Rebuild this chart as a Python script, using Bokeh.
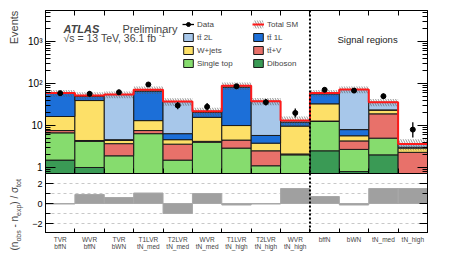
import numpy as np
from bokeh.plotting import figure
from bokeh.models import (Range1d, LinearAxis, LogAxis, FixedTicker, Span, Label, LabelSet,
                          ColumnDataSource, Legend, LegendItem)
from bokeh.core.properties import value
from bokeh.layouts import column, row
from bokeh.embed import file_html
from bokeh.resources import INLINE

# ---------------- data ----------------
label_line1 = ["TVR", "WVR", "TVR", "T1LVR", "T2LVR", "WVR", "T1LVR", "T2LVR", "WVR",
               "bffN", "bWN", "tN_med", "tN_high"]
label_line2 = ["bffN", "bffN", "bWN", "tN_med", "tN_med", "tN_med", "tN_high", "tN_high", "tN_high"]

diboson    = [1.5, 1.0, 0.3, 0.4, 0.3, 0.3, 0.3, 0.2, 0.3, 2.5, 0.8, 2.0, 0.1]
single_top = [5.2, 3.2, 1.6, 6.0, 1.2, 3.7, 2.6, 0.9, 1.7, 10.0, 1.9, 3.0, 0.3]
ttv        = [0.9, 0.2, 1.8, 1.2, 2.1, 0.2, 1.6, 1.4, 0.1, 0.3, 1.6, 14.0, 1.9]
wjets      = [8.8, 35.0, 0.7, 5.5, 1.0, 11.5, 5.5, 1.3, 7.6, 20.1, 1.4, 4.4, 0.6]
tt1l       = [42.0, 10.0, 0.2, 52.5, 1.8, 4.9, 71.6, 2.0, 2.3, 24.0, 2.3, 0.2, 0.13]
tt2l       = [1.0, 2.5, 50.0, 5.2, 30.8, 1.2, 6.7, 32.0, 1.1, 3.0, 64.0, 12.2, 0.6]
rel_unc    = [0.18, 0.2, 0.18, 0.2, 0.2, 0.22, 0.2, 0.2, 0.25, 0.18, 0.18, 0.2, 0.3]

data        = [59, 57, 62, 95, 30, 28, 86, 36, 20, 71, 68, 50, 8]
data_err_lo = [7.7, 7.5, 7.9, 9.7, 5.5, 5.3, 9.3, 6.0, 4.4, 8.4, 8.2, 7.1, 2.8]
data_err_hi = [8.7, 8.6, 8.9, 10.8, 6.5, 6.3, 10.3, 7.1, 5.5, 9.5, 9.3, 8.1, 4.0]

significance = [-0.05, 0.9, 0.6, 1.05, -1.0, 1.0, -0.15, -0.05, 1.5, 0.7, -0.15, 1.5, 1.5]

n_cr = 9  # number of control/validation regions before the divider

FONT = "Liberation Sans"
colors = {
    "Diboson": "#3a9a55",
    "Single top": "#86dc6e",
    "ttV": "#e8716a",
    "W+jets": "#fde068",
    "tt1L": "#1c6fd8",
    "tt2L": "#a7c7ea",
}

nb = len(data)
edges = np.arange(nb + 1, dtype=float)
left, right = edges[:-1], edges[1:]
centers = 0.5 * (left + right)

LB, RB, FW = 21, 23, 382          # left/right borders and frame width of the stacked panels
MAIN_H, RATIO_H, XLAB_H, TOP = 163, 60, 24, 10
TOTAL_H = TOP + MAIN_H + RATIO_H + XLAB_H + 2

# ---------------- main panel ----------------
p = figure(frame_width=FW, frame_height=MAIN_H, x_range=Range1d(0, nb),
           y_range=Range1d(0.72, 5500), y_axis_type="log",
           output_backend="svg", toolbar_location=None,
           min_border_left=LB, min_border_right=RB, min_border_top=TOP, min_border_bottom=0)
p.grid.visible = False
p.outline_line_color = "black"

stack = [(diboson, colors["Diboson"]), (single_top, colors["Single top"]), (ttv, colors["ttV"]),
         (wjets, colors["W+jets"]), (tt1l, colors["tt1L"]), (tt2l, colors["tt2L"])]
bottom = np.full(nb, 1e-3)
rend = []
for vals, col in stack:
    top = bottom + np.array(vals, dtype=float)
    r = p.quad(left=left, right=right, bottom=bottom, top=top, fill_color=col,
               line_color="#1a1a1a", line_width=1)
    rend.append(r)
    bottom = top
total = bottom
r_dib, r_st, r_ttv, r_wj, r_tt1, r_tt2 = rend

unc = np.array(rel_unc)
r_band = p.quad(left=left, right=right, bottom=total * (1 - unc), top=total * (1 + unc),
                fill_alpha=0, line_alpha=0, hatch_pattern="\\", hatch_color="#555555",
                hatch_scale=5, hatch_weight=0.7, hatch_alpha=0.9)
r_tot = p.step(x=edges, y=np.append(total, total[-1]), mode="after", line_color="#ff1a1a", line_width=2)

d = np.array(data, dtype=float)
r_err = p.segment(x0=centers, y0=d - np.array(data_err_lo), x1=centers, y1=d + np.array(data_err_hi),
                  line_color="black", line_width=1.3)
r_dat = p.scatter(x=centers, y=d, size=5, color="black")

p.add_layout(Span(location=n_cr, dimension="height", line_color="black", line_width=2, line_dash="2 2"))


def style_axis(ax, tin, minor_in=0, labels=True, fs="10px"):
    ax.major_tick_in = tin
    ax.major_tick_out = 0
    ax.minor_tick_in = minor_in
    ax.minor_tick_out = 0
    ax.axis_line_color = "black"
    ax.major_tick_line_color = "black"
    ax.minor_tick_line_color = "black"
    ax.axis_label_standoff = 0
    if labels:
        ax.major_label_standoff = 3
        ax.major_label_text_font = FONT
        ax.major_label_text_font_size = fs
        ax.major_label_text_color = "black"
    else:
        ax.major_label_standoff = 0
        ax.major_label_text_font_size = "1px"
        ax.major_label_text_alpha = 0


log_minor = [0.8, 0.9] + [m * 10 ** e for e in range(0, 4) for m in range(2, 10)]
p.yaxis.ticker = FixedTicker(ticks=[1, 10, 100, 1000], minor_ticks=log_minor)
style_axis(p.yaxis[0], 10, 5, True, "10px")
p.yaxis.major_label_overrides = {1: "1", 10: "10", 100: "10²", 1000: "10³"}

ry = LogAxis(ticker=FixedTicker(ticks=[1, 10, 100, 1000], minor_ticks=log_minor))
style_axis(ry, 10, 5, False)
p.add_layout(ry, "right")

p.xaxis.ticker = FixedTicker(ticks=list(edges[1:-1]), minor_ticks=[])
style_axis(p.xaxis[0], 5, 0, False)
ax_top = LinearAxis(ticker=FixedTicker(ticks=list(edges[1:-1]), minor_ticks=[]))
style_axis(ax_top, 5, 0, False)
p.add_layout(ax_top, "above")

# texts inside the main frame
p.add_layout(Label(x=0.613, y=2040, text="ATLAS", text_font=FONT, text_font_style="bold italic",
                   text_font_size="11px", text_baseline="alphabetic"))
p.add_layout(Label(x=2.62, y=2040, text="Preliminary", text_font=FONT,
                   text_font_size="11px", text_baseline="alphabetic"))
p.add_layout(Label(x=0.613, y=1211, text="\u221as = 13 TeV, 36.1 fb", text_font=FONT,
                   text_font_size="10.5px", text_baseline="alphabetic"))
p.add_layout(Label(x=3.86, y=1211, y_offset=4, text="-1", text_font=FONT,
                   text_font_size="7px", text_baseline="alphabetic"))
p.add_layout(Label(x=10.96, y=1116, text="Signal regions", text_font=FONT, text_align="center",
                   text_font_size="9.5px", text_baseline="alphabetic", text_color="#222222"))

leg_kw = dict(orientation="vertical", glyph_width=12, glyph_height=10, label_height=10,
              label_standoff=3, spacing=3, padding=0, margin=0,
              label_text_font=FONT, label_text_font_size="8px",
              background_fill_alpha=0, border_line_alpha=0)
leg1 = Legend(items=[LegendItem(label="Data", renderers=[r_err, r_dat]),
                     LegendItem(label="tt\u0304 2L", renderers=[r_tt2]),
                     LegendItem(label="W+jets", renderers=[r_wj]),
                     LegendItem(label="Single top", renderers=[r_st])],
              location=(137, 105), **leg_kw)
leg2 = Legend(items=[LegendItem(label="Total SM", renderers=[r_band, r_tot]),
                     LegendItem(label="tt\u0304 1L", renderers=[r_tt1]),
                     LegendItem(label="tt\u0304+V", renderers=[r_ttv]),
                     LegendItem(label="Diboson", renderers=[r_dib])],
              location=(207, 105), **leg_kw)
p.add_layout(leg1)
p.add_layout(leg2)

# ---------------- ratio panel ----------------
q = figure(frame_width=FW, frame_height=RATIO_H, x_range=p.x_range, y_range=Range1d(-3, 3),
           output_backend="svg", toolbar_location=None,
           min_border_left=LB, min_border_right=RB, min_border_top=0, min_border_bottom=0)
q.outline_line_color = "black"
q.xgrid.visible = False
q.ygrid.ticker = FixedTicker(ticks=[-2, -1, 0, 1, 2])
q.ygrid.grid_line_dash = "3 3"
q.ygrid.grid_line_color = "#c8c8c8"
q.ygrid.grid_line_width = 1

q.quad(left=left, right=right, bottom=np.zeros(nb), top=significance, fill_color="#a0a0a0",
       line_color="#a8a8a8", line_width=1)
q.add_layout(Span(location=n_cr, dimension="height", line_color="black", line_width=2, line_dash="2 2"))

q.yaxis.ticker = FixedTicker(ticks=[-2, 0, 2], minor_ticks=[-3, -1, 1, 3])
style_axis(q.yaxis[0], 8, 5, True, "9px")
qr = LinearAxis(ticker=FixedTicker(ticks=[-2, 0, 2], minor_ticks=[-3, -1, 1, 3]))
style_axis(qr, 8, 5, False)
q.add_layout(qr, "right")
q.xaxis.ticker = FixedTicker(ticks=list(edges[1:-1]), minor_ticks=[])
style_axis(q.xaxis[0], 5, 0, False)

# ---------------- x category labels strip ----------------
xf = figure(frame_width=FW, frame_height=XLAB_H, x_range=p.x_range, y_range=Range1d(0, XLAB_H),
            output_backend="svg", toolbar_location=None, x_axis_location=None, y_axis_location=None,
            min_border_left=LB, min_border_right=RB, min_border_top=0, min_border_bottom=0)
xf.grid.visible = False
xf.outline_line_color = None
src1 = ColumnDataSource(dict(x=centers, y=np.full(nb, XLAB_H - 5.5), t=label_line1))
n2 = len(label_line2)
src2 = ColumnDataSource(dict(x=centers[:n2], y=np.full(n2, XLAB_H - 13.0), t=label_line2))
for s in (src1, src2):
    xf.add_layout(LabelSet(x="x", y="y", text="t", source=s, text_align="center",
                           text_baseline="middle", text_font=value(FONT), text_font_size=value("6.5px")))

# ---------------- left strip with the rotated axis titles ----------------
LW = 45 - LB
lf = figure(frame_width=LW, frame_height=TOTAL_H, x_range=Range1d(0, LW), y_range=Range1d(0, TOTAL_H),
            output_backend="svg", toolbar_location=None, x_axis_location=None, y_axis_location=None,
            min_border_left=0, min_border_right=0, min_border_top=0, min_border_bottom=0)
lf.grid.visible = False
lf.outline_line_color = None
# "Events": 11px text, top end at the frame top (y = TOP from the top), centred along its length
lf.add_layout(Label(x=13, y=TOTAL_H - (TOP + 17), text="Events", angle=np.pi / 2, text_align="center",
                    text_baseline="middle", text_font=FONT, text_font_size="11px"))
# (n_obs - n_exp) / sigma_tot, built from pieces; (start offset, width) in px along the label
pieces = [("(n", False, 0.0, 8.9), ("obs", True, 8.9, 11.3), ("- n", False, 22.95, 11.7),
          ("exp", True, 34.6, 11.3), (") / \u03c3", False, 45.9, 17.7), ("tot", True, 63.6, 7.8)]
for txt, sub, off, w in pieces:
    lf.add_layout(Label(x=(17.5 if sub else 14), y=TOTAL_H - 250, y_offset=off + w / 2, text=txt,
                        angle=np.pi / 2, text_align="center", text_baseline="middle",
                        text_font=FONT, text_font_size=("7px" if sub else "10px")))

layout = row(lf, column(p, q, xf, spacing=0), spacing=0)
open("out.html", "w").write(file_html(layout, INLINE))
